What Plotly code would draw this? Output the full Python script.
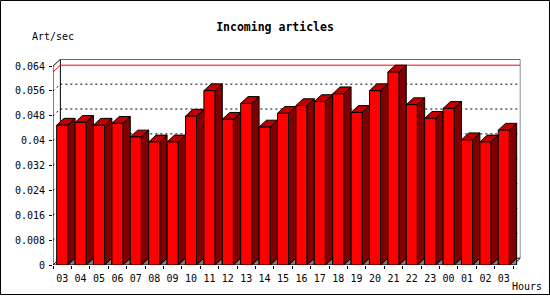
import plotly.graph_objects as go

# ---- data ----
hours = ["03", "04", "05", "06", "07", "08", "09", "10", "11", "12", "13", "14",
         "15", "16", "17", "18", "19", "20", "21", "22", "23", "00", "01", "02", "03"]
art_per_sec = [0.0450, 0.0459, 0.0450, 0.0456, 0.0412, 0.0396, 0.0396, 0.0479,
               0.0561, 0.0469, 0.0520, 0.0444, 0.0488, 0.0513, 0.0526, 0.0551,
               0.0491, 0.0561, 0.0621, 0.0516, 0.0472, 0.0504, 0.0403, 0.0396, 0.0434]
y_tick_vals = [0, 0.008, 0.016, 0.024, 0.032, 0.040, 0.048, 0.056, 0.064]
y_tick_text = ["0", "0.008", "0.016", "0.024", "0.032", "0.04", "0.048", "0.056", "0.064"]

# ---- geometry / style ----
W, H = 550, 300
N = len(hours)
HW = 0.3            # half width of bar front face (x units)
DX = 0.4            # depth offset (x units)
DY = 0.0022         # depth offset (y units)
YMAX = y_tick_vals[-1]
PX_PER_X = 18.4
PX_PER_Y = 3160.0
LEFT_PX, BOTTOM_PX = 53.0, 269.5

x_lo, x_hi = -0.5, N - 0.5 + DX
y_lo, y_hi = 0.0, YMAX + DY
dom_x = [LEFT_PX / W, (LEFT_PX + (x_hi - x_lo) * PX_PER_X) / W]
dom_y = [(H - BOTTOM_PX) / H, (H - BOTTOM_PX + (y_hi - y_lo) * PX_PER_Y) / H]

FRONT = "#FF0000"
SIDE = "#800000"
TOP = "#C00000"
SHADOW = "#808080"
MONO = "DejaVu Sans Mono"

fig = go.Figure()


def poly_trace(xs, ys, fill, name):
    return go.Scatter(x=xs, y=ys, mode="lines", fill="toself", fillcolor=fill,
                      line=dict(color="black", width=1), hoverinfo="skip",
                      showlegend=False, name=name, cliponaxis=False)


def line_trace(xs, ys, color="black", dash="solid"):
    return go.Scatter(x=xs, y=ys, mode="lines", line=dict(color=color, width=1, dash=dash),
                      hoverinfo="skip", showlegend=False, cliponaxis=False)


L, R = -0.5, N - 0.5
# back wall, left wall, floor outlines
fig.add_trace(line_trace([L + DX, R + DX, R + DX, L + DX, L + DX],
                         [DY, DY, YMAX + DY, YMAX + DY, DY]))
fig.add_trace(line_trace([L + DX, L, L, L + DX], [YMAX + DY, YMAX, 0, DY]))
fig.add_trace(line_trace([L, R, R + DX], [0, 0, DY]))

# dotted grid on back wall + left wall
gx, gy = [], []
for v in y_tick_vals[1:-1]:
    gx += [L, L + DX, R + DX, None]
    gy += [v, v + DY, v + DY, None]
fig.add_trace(line_trace(gx, gy, dash="2px,3px"))

# max line
m = max(art_per_sec)
fig.add_trace(line_trace([L, L + DX, R + DX], [m, m + DY, m + DY], color="#FF0000"))

# bars
sx, sy, dxs, dys, tx, ty, fx, fy = [], [], [], [], [], [], [], []
for i, v in enumerate(art_per_sec):
    sx += [i + HW, i + HW + DX, i + HW + DX, i + HW, None]
    sy += [0, 0, DY, 0, None]
    dxs += [i + HW, i + HW + DX, i + HW + DX, i + HW, i + HW, None]
    dys += [0, DY, v + DY, v, 0, None]
    tx += [i - HW, i + HW, i + HW + DX, i - HW + DX, i - HW, None]
    ty += [v, v, v + DY, v + DY, v, None]
    fx += [i - HW, i + HW, i + HW, i - HW, i - HW, None]
    fy += [0, 0, v, v, 0, None]

fig.add_trace(poly_trace(sx, sy, SHADOW, "shadow"))
fig.add_trace(poly_trace(dxs, dys, SIDE, "side"))
fig.add_trace(poly_trace(tx, ty, TOP, "top"))
fig.add_trace(poly_trace(fx, fy, FRONT, "Art/sec"))

fig.update_layout(
    width=W, height=H,
    margin=dict(l=0, r=0, t=0, b=0),
    paper_bgcolor="white", plot_bgcolor="white",
    showlegend=False,
    font=dict(family=MONO, size=10, color="black"),
    title=dict(text="<b>Incoming articles</b>", x=0.5, xref="paper", xanchor="center",
               y=1 - 27 / H, yref="paper", yanchor="middle",
               font=dict(family=MONO, size=11.5, color="black")),
    xaxis=dict(domain=dom_x, range=[x_lo, x_hi], showgrid=False, zeroline=False,
               showline=False, tickmode="array", tickvals=list(range(N)), ticktext=hours,
               ticks="", ticklabelstandoff=6,
               tickfont=dict(family=MONO, size=10, color="black"),
               minor=dict(tick0=-0.5, dtick=1, ticks="outside", ticklen=3,
                          tickcolor="black", tickwidth=1, showgrid=False),
               fixedrange=True),
    yaxis=dict(domain=dom_y, range=[y_lo, y_hi], showgrid=False, zeroline=False,
               showline=False, tickmode="array", tickvals=y_tick_vals, ticktext=y_tick_text,
               ticks="outside", ticklen=3, tickcolor="black", tickwidth=1,
               ticklabelstandoff=2,
               tickfont=dict(family=MONO, size=10, color="black"), fixedrange=True),
    annotations=[
        dict(text="Art/sec", x=30 / W, y=1 - 37 / H, xref="paper", yref="paper",
             xanchor="left", yanchor="middle", showarrow=False,
             font=dict(family=MONO, size=10, color="black")),
        dict(text="Hours", x=511 / W, y=1 - 298 / H, xref="paper", yref="paper",
             xanchor="left", yanchor="bottom", showarrow=False, borderpad=0,
             font=dict(family=MONO, size=10, color="black")),
    ],
    shapes=[dict(type="rect", xref="paper", yref="paper",
                 x0=0.5 / W, x1=1 - 0.5 / W, y0=0.5 / H, y1=1 - 0.5 / H,
                 line=dict(color="black", width=1))],
)

fig.write_html("out.html")
